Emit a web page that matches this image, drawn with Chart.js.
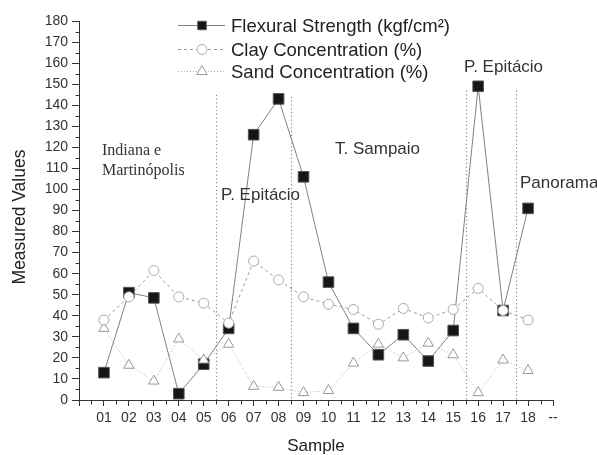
<!DOCTYPE html>
<html>
<head>
<meta charset="utf-8">
<script src="https://cdn.jsdelivr.net/npm/chart.js@4.4.0/dist/chart.umd.min.js"></script>
<style>
  body { margin: 0; background: #fff; }
</style>
</head>
<body>
<canvas id="chart" width="597" height="455"></canvas>
<script>
// samples 01..18 (the trailing "--" tick has no data)
const samples = [1, 2, 3, 4, 5, 6, 7, 8, 9, 10, 11, 12, 13, 14, 15, 16, 17, 18];
const flexural = [13, 51, 48.5, 3, 17, 34, 126, 143, 106, 56, 34, 21.5, 31, 18.5, 33, 149, 42.5, 91];
const clay = [38, 49, 61.5, 49, 46, 36.5, 66, 57, 49, 45.5, 43, 36, 43.5, 39, 43, 53, 42.5, 38];
const sand = [34, 16.5, 9, 29, 19, 26.5, 6.5, 6, 3.5, 4.5, 17.5, 26.5, 20, 27, 21.5, 3.5, 19, 14];

// region separators between sample groups
const dividers = [5.5, 8.5, 15.5, 17.5];
const dividerTop = [145, 144, 147, 147];

const FONT = '"Liberation Sans", Arial, sans-serif';

function toPoints(vals) {
    return samples.map((s, i) => ({ x: s, y: vals[i] }));
}

function xLabel(v) {
    if (v === 19) return '--';
    if (Number.isInteger(v) && v >= 1 && v <= 18) return String(v).padStart(2, '0');
    return '';
}

// --- extra drawing: minor ticks, dotted separators, region names, legend ---
const decorations = {
    id: 'decorations',
    beforeDatasetsDraw(chart) {
        const { ctx, scales: { x, y } } = chart;
        ctx.save();
        ctx.strokeStyle = '#8a8a8a';
        ctx.lineWidth = 1.2;
        ctx.setLineDash([1.2, 2.6]);
        dividers.forEach((d, i) => {
            const px = Math.round(x.getPixelForValue(d)) + 0.5;
            ctx.beginPath();
            ctx.moveTo(px, y.getPixelForValue(dividerTop[i]));
            ctx.lineTo(px, y.getPixelForValue(0));
            ctx.stroke();
        });
        ctx.restore();
    },
    afterDraw(chart) {
        const { ctx, scales: { x, y } } = chart;
        ctx.save();

        // minor ticks
        ctx.strokeStyle = '#333';
        ctx.lineWidth = 1;
        const x0 = Math.round(x.left) + 0.5;
        for (let v = 5; v < 180; v += 10) {
            const py = Math.round(y.getPixelForValue(v)) + 0.5;
            ctx.beginPath();
            ctx.moveTo(x0, py);
            ctx.lineTo(x0 - 4, py);
            ctx.stroke();
        }
        const y0 = Math.round(y.bottom) + 0.5;
        for (let v = 0.5; v < 19; v += 1) {
            const px = Math.round(x.getPixelForValue(v)) + 0.5;
            ctx.beginPath();
            ctx.moveTo(px, y0);
            ctx.lineTo(px, y0 + 4);
            ctx.stroke();
        }

        // y axis title (drawn here so it can sit a little below centre, like the original)
        ctx.save();
        ctx.translate(20, 217);
        ctx.rotate(-Math.PI / 2);
        ctx.textAlign = 'center';
        ctx.textBaseline = 'middle';
        ctx.fillStyle = '#222';
        ctx.font = '17.5px ' + FONT;
        ctx.fillText('Measured Values', 0, 0);
        ctx.restore();

        // region names
        ctx.fillStyle = '#333';
        ctx.textBaseline = 'alphabetic';
        ctx.textAlign = 'left';
        ctx.font = '16px "Liberation Serif", "Times New Roman", serif';
        ctx.fillText('Indiana e', 102, 155);
        ctx.fillText('Martinópolis', 102, 175);
        ctx.font = '17px ' + FONT;
        ctx.fillText('P. Epitácio', 221, 200);
        ctx.fillText('T. Sampaio', 335, 154);
        ctx.fillText('P. Epitácio', 464, 72);
        ctx.fillText('Panorama', 520, 188);

        // legend
        const rows = [32, 56, 78];
        chart.data.datasets.forEach((ds, i) => {
            const ly = rows[i] - 7;
            ctx.save();
            ctx.strokeStyle = ds.borderColor;
            ctx.lineWidth = ds.borderWidth;
            ctx.setLineDash(ds.borderDash || []);
            ctx.beginPath();
            ctx.moveTo(178, ly + 0.5);
            ctx.lineTo(225, ly + 0.5);
            ctx.stroke();
            ctx.setLineDash([]);
            ctx.fillStyle = ds.pointBackgroundColor;
            ctx.strokeStyle = ds.pointBorderColor;
            ctx.lineWidth = ds.pointBorderWidth;
            Chart.helpers.drawPoint(ctx, {
                pointStyle: ds.pointStyle,
                radius: ds.legendRadius,
                borderWidth: ds.pointBorderWidth
            }, 202, ly + 0.5);
            ctx.restore();
            ctx.fillStyle = '#222';
            ctx.font = '18.5px ' + FONT;
            ctx.fillText(ds.label, 231, rows[i]);
        });
        ctx.restore();
    }
};

new Chart(document.getElementById('chart'), {
    type: 'line',
    data: {
        datasets: [
            {
                label: 'Flexural Strength (kgf/cm²)',
                data: toPoints(flexural),
                borderColor: '#808080',
                borderWidth: 1,
                pointStyle: 'rect',
                pointRadius: 7.5,
                legendRadius: 6,
                pointBackgroundColor: '#161616',
                pointBorderColor: '#555',
                pointBorderWidth: 1,
                order: 2
            },
            {
                label: 'Clay Concentration (%)',
                data: toPoints(clay),
                borderColor: '#9a9a9a',
                borderWidth: 1,
                borderDash: [3, 3],
                pointStyle: 'circle',
                pointRadius: 5,
                legendRadius: 5,
                pointBackgroundColor: '#fff',
                pointBorderColor: '#aaa',
                pointBorderWidth: 1,
                order: 0
            },
            {
                label: 'Sand Concentration (%)',
                data: toPoints(sand),
                borderColor: '#b0b0b0',
                borderWidth: 1,
                borderDash: [1, 2],
                pointStyle: 'triangle',
                pointRadius: 6,
                legendRadius: 6,
                pointBackgroundColor: '#fff',
                pointBorderColor: '#999',
                pointBorderWidth: 1,
                order: 1
            }
        ]
    },
    options: {
        responsive: false,
        animation: false,
        layout: { padding: { top: 21, right: 44, left: 0, bottom: 0 } },
        plugins: {
            legend: { display: false },
            tooltip: { enabled: false }
        },
        scales: {
            x: {
                type: 'linear',
                min: 0,
                max: 19,
                afterFit: s => { s.height = 55; },
                afterBuildTicks: s => {
                    s.ticks = [];
                    for (let v = 0; v <= 19; v++) s.ticks.push({ value: v });
                },
                ticks: {
                    autoSkip: false,
                    maxRotation: 0,
                    padding: 4,
                    color: '#333',
                    font: { family: FONT, size: 14 },
                    callback: v => xLabel(v)
                },
                grid: {
                    drawOnChartArea: false,
                    tickLength: 6,
                    tickColor: '#333'
                },
                border: { color: '#333', width: 1 },
                title: {
                    display: true,
                    text: 'Sample',
                    color: '#222',
                    font: { family: FONT, size: 17 },
                    padding: { top: 0, bottom: -2 }
                }
            },
            y: {
                min: 0,
                max: 180,
                afterFit: s => { s.width = 79; },
                ticks: {
                    stepSize: 10,
                    padding: 4,
                    color: '#333',
                    font: { family: FONT, size: 14 }
                },
                grid: {
                    drawOnChartArea: false,
                    tickLength: 7,
                    tickColor: '#333'
                },
                border: { color: '#333', width: 1 }
            }
        }
    },
    plugins: [decorations]
});
</script>
</body>
</html>
